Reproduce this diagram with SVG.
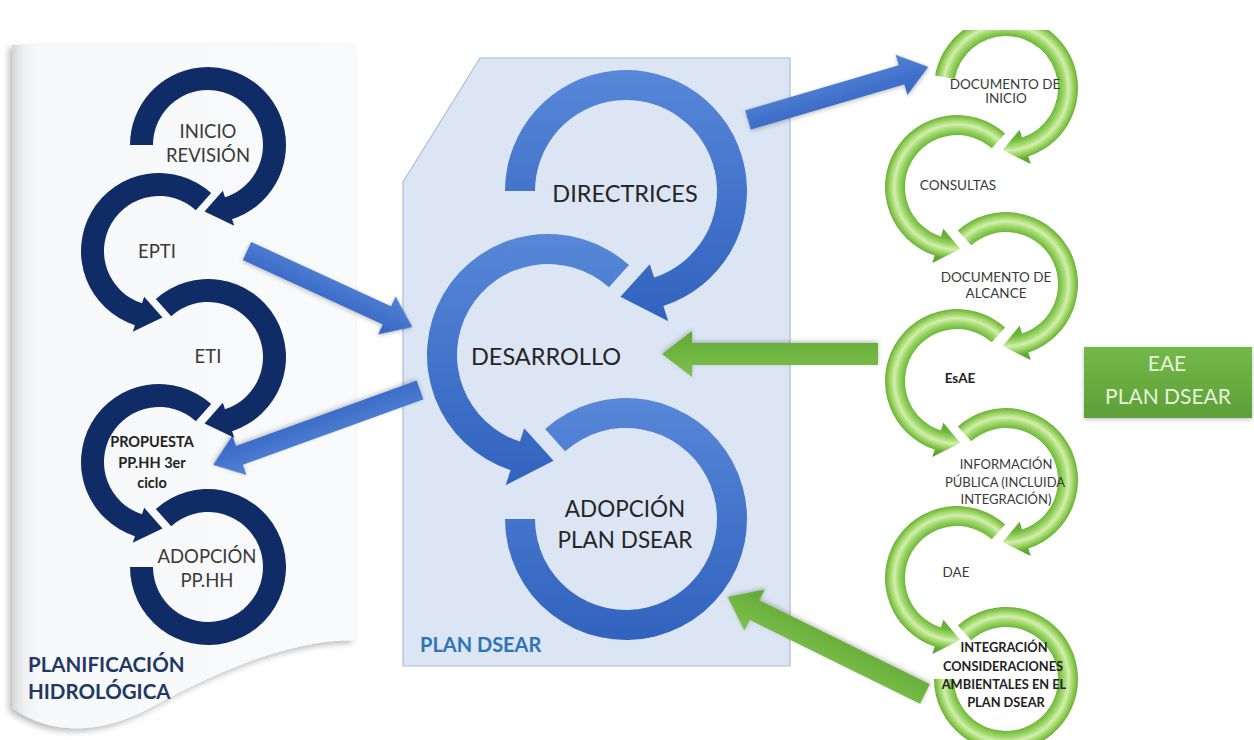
<svg xmlns="http://www.w3.org/2000/svg" width="1254" height="740" viewBox="0 0 1254 740">
  <defs>
    <style>
      .t { font-family: Lato, 'Open Sans', sans-serif; fill: #3a3a3a; text-anchor: middle; }
      .b { font-weight: bold; }
      .navy { fill: #0f2c66; }
      .blue { fill: url(#gBlueRing); }
      .green { fill: url(#gGreenRing); }
      .arrowBlue { fill: url(#gBlueArrow); filter: url(#soft); }
      .arrowGreen { fill: url(#gGreenArrow); filter: url(#soft); }
    </style>

    <!-- fills -->
    <linearGradient id="gPanel" x1="0" y1="0" x2="1" y2="0">
      <stop offset="0" stop-color="#d6d6d8"/>
      <stop offset="0.035" stop-color="#eef0f2"/>
      <stop offset="0.08" stop-color="#f7f8fa"/>
      <stop offset="1" stop-color="#f9fafb"/>
    </linearGradient>
    <linearGradient id="gBlueRing" x1="0" y1="0" x2="0" y2="1">
      <stop offset="0" stop-color="#5687d8"/>
      <stop offset="1" stop-color="#3162be"/>
    </linearGradient>
    <linearGradient id="gBlueArrow" x1="0" y1="0" x2="0" y2="1">
      <stop offset="0" stop-color="#5283d6"/>
      <stop offset="1" stop-color="#3565c2"/>
    </linearGradient>
    <linearGradient id="gGreenArrow" x1="0" y1="0" x2="0" y2="1">
      <stop offset="0" stop-color="#7dc24c"/>
      <stop offset="1" stop-color="#62a836"/>
    </linearGradient>
    <linearGradient id="gBox" x1="0" y1="0" x2="0" y2="1">
      <stop offset="0" stop-color="#74b84a"/>
      <stop offset="1" stop-color="#5d9f37"/>
    </linearGradient>
    <!-- bevelled band for the green ring arrows, centred on each ring -->
    <radialGradient id="gGreenRing" gradientUnits="userSpaceOnUse" cx="0" cy="0" r="84">
      <stop offset="0" stop-color="#5aa530"/>
      <stop offset="0.52" stop-color="#5aa530"/>
      <stop offset="0.62" stop-color="#6db838"/>
      <stop offset="0.70" stop-color="#a6db74"/>
      <stop offset="0.745" stop-color="#d2efad"/>
      <stop offset="0.80" stop-color="#9dd563"/>
      <stop offset="0.86" stop-color="#66ad35"/>
      <stop offset="0.95" stop-color="#4f9a28"/>
      <stop offset="1" stop-color="#4f9a28"/>
    </radialGradient>

    <filter id="soft" x="-20%" y="-40%" width="140%" height="180%">
      <feDropShadow dx="0" dy="1.5" stdDeviation="2" flood-color="#000" flood-opacity="0.25"/>
    </filter>
    <filter id="panelShadow" x="-10%" y="-10%" width="120%" height="120%">
      <feDropShadow dx="-3" dy="3" stdDeviation="3" flood-color="#000" flood-opacity="0.28"/>
    </filter>

    <clipPath id="clipTop">
      <rect x="880" y="30" width="240" height="200"/>
    </clipPath>

    <!-- ring arrows, centred on 0,0; clockwise from the start angle -->
    <path id="navyFirst" d="M-78 0A78 78 0 1 1 24.10 74.19L26.27 80.84L-3.48 66.41L14.83 45.65L17.00 52.31A55 55 0 1 0 -55 0Z"/>
    <path id="navyStep" d="M-52.19 -57.96A78 78 0 1 1 24.10 74.19L26.27 80.84L-3.48 66.41L14.83 45.65L17.00 52.31A55 55 0 1 0 -36.80 -40.87Z"/>
    <path id="navyLast" d="M-52.19 -57.96A78 78 0 1 1 -78 0L-55 0A55 55 0 1 0 -36.80 -40.87Z"/>

    <path id="blueFirst" d="M-121 0A121 121 0 1 1 37.39 115.08L42.33 130.30L-5.55 105.85L23.79 73.23L28.12 86.55A91 91 0 1 0 -91 0Z"/>
    <path id="blueStep" d="M-80.96 -89.92A121 121 0 1 1 37.39 115.08L42.33 130.30L-5.55 105.85L23.79 73.23L28.12 86.55A91 91 0 1 0 -60.89 -67.63Z"/>
    <path id="blueLast" d="M-80.96 -89.92A121 121 0 1 1 -121 0L-91 0A91 91 0 1 0 -60.89 -67.63Z"/>

    <path id="greenFirst" d="M-70.91 -12.50A72 72 0 1 1 22.25 68.48L24.72 76.09L-3.24 61.92L13.60 41.85L16.07 49.45A52 52 0 1 0 -51.21 -9.03Z"/>
    <path id="greenStep" d="M-48.18 -53.50A72 72 0 1 1 22.25 68.48L24.72 76.09L-3.24 61.92L13.60 41.85L16.07 49.45A52 52 0 1 0 -34.79 -38.64Z"/>
    <path id="greenLast" d="M-48.18 -53.50A72 72 0 1 1 -72 0L-52 0A52 52 0 1 0 -34.79 -38.64Z"/>
  </defs>

  <rect width="1254" height="740" fill="#ffffff"/>

  <!-- Planificación hidrológica -->
  <g id="panel-planificacion">
    <path d="M12 45L355 45L355 640C285 640 210 675 150 708C100 735 50 735 12 708Z" fill="url(#gPanel)" filter="url(#panelShadow)"/>
    <text class="t b" x="28" y="672" style="font-size:20.5px; fill:#1f3864; text-anchor:start">PLANIFICACIÓN</text>
    <text class="t b" x="28" y="699" style="font-size:20.5px; fill:#1f3864; text-anchor:start">HIDROLÓGICA</text>
  </g>

  <!-- Plan DSEAR -->
  <g id="panel-dsear">
    <path d="M403 182L480 58L790 58L790 666L403 666Z" fill="#dce5f3" stroke="#a9bedb" stroke-width="1.2"/>
    <text class="t b" x="420" y="652" style="font-size:20px; fill:#2e74b5; text-anchor:start">PLAN DSEAR</text>
  </g>

  <g id="connectors">
    <polygon class="arrowBlue" transform="translate(748 120) rotate(-16.4)" points="0,-10 160,-10 160,-21 188,0 160,21 160,10 0,10"/>
    <polygon class="arrowBlue" transform="translate(247 251) rotate(24.7)" points="0,-10 154,-10 154,-21 182,0 154,21 154,10 0,10"/>
    <polygon class="arrowBlue" transform="translate(420 390) rotate(160.1)" points="0,-10 192,-10 192,-21 220,0 192,21 192,10 0,10"/>
    <polygon class="arrowGreen" transform="translate(878 354) rotate(180)" points="0,-11 186,-11 186,-23 216,0 186,23 186,11 0,11"/>
    <polygon class="arrowGreen" transform="translate(925 694) rotate(206.2)" points="0,-11 190,-11 190,-23 220,0 190,23 190,11 0,11"/>
  </g>

  <!-- hydrological planning cycle -->
  <g id="inicio-revision">
    <use href="#navyFirst" class="navy" transform="translate(208 145)"/>
    <text class="t" x="208" y="138" style="font-size:18.5px">INICIO</text>
    <text class="t" x="208" y="162" style="font-size:18.5px">REVISIÓN</text>
  </g>
  <g id="epti">
    <use href="#navyStep" class="navy" transform="translate(159 251) scale(-1 1)"/>
    <text class="t" x="157" y="258" style="font-size:18.5px">EPTI</text>
  </g>
  <g id="eti">
    <use href="#navyStep" class="navy" transform="translate(208 357)"/>
    <text class="t" x="208" y="363" style="font-size:18.5px">ETI</text>
  </g>
  <g id="propuesta">
    <use href="#navyStep" class="navy" transform="translate(159 462) scale(-1 1)"/>
    <text class="t b" x="152" y="447" style="font-size:14.5px; fill:#222">PROPUESTA</text>
    <text class="t b" x="152" y="468" style="font-size:14.5px; fill:#222">PP.HH 3er</text>
    <text class="t b" x="152" y="488" style="font-size:14.5px; fill:#222">ciclo</text>
  </g>
  <g id="adopcion-pphh">
    <use href="#navyLast" class="navy" transform="translate(208 567)"/>
    <text class="t" x="207" y="563" style="font-size:18.5px">ADOPCIÓN</text>
    <text class="t" x="207" y="587" style="font-size:18.5px">PP.HH</text>
  </g>

  <!-- DSEAR plan cycle -->
  <g id="directrices">
    <use href="#blueFirst" class="blue" transform="translate(626 191)"/>
    <text class="t" x="625" y="202" style="font-size:23.5px; fill:#262626">DIRECTRICES</text>
  </g>
  <g id="desarrollo">
    <use href="#blueStep" class="blue" transform="translate(548 355) scale(-1 1)"/>
    <text class="t" x="546" y="365" style="font-size:23.5px; fill:#262626">DESARROLLO</text>
  </g>
  <g id="adopcion-dsear">
    <use href="#blueLast" class="blue" transform="translate(626 519)"/>
    <text class="t" x="625" y="517" style="font-size:22.5px; fill:#262626">ADOPCIÓN</text>
    <text class="t" x="625" y="548" style="font-size:22.5px; fill:#262626">PLAN DSEAR</text>
  </g>

  <!-- strategic environmental assessment cycle -->
  <g id="documento-inicio">
    <g clip-path="url(#clipTop)">
      <use href="#greenFirst" class="green" transform="translate(1006 88)"/>
    </g>
    <text class="t" x="1005" y="89" style="font-size:13.5px">DOCUMENTO DE</text>
    <text class="t" x="1006" y="103" style="font-size:13.5px">INICIO</text>
  </g>
  <g id="consultas">
    <use href="#greenStep" class="green" transform="translate(957 187) scale(-1 1)"/>
    <text class="t" x="958" y="190" style="font-size:13.5px">CONSULTAS</text>
  </g>
  <g id="documento-alcance">
    <use href="#greenStep" class="green" transform="translate(1006 284)"/>
    <text class="t" x="996" y="282" style="font-size:13.5px">DOCUMENTO DE</text>
    <text class="t" x="996" y="298" style="font-size:13.5px">ALCANCE</text>
  </g>
  <g id="esae">
    <use href="#greenStep" class="green" transform="translate(957 381) scale(-1 1)"/>
    <text class="t b" x="960" y="383" style="font-size:13.5px; fill:#222">EsAE</text>
  </g>
  <g id="informacion-publica">
    <use href="#greenStep" class="green" transform="translate(1006 480)"/>
    <text class="t" x="1006" y="469" style="font-size:13px">INFORMACIÓN</text>
    <text class="t" x="1005" y="487" style="font-size:13px">PÚBLICA (INCLUIDA</text>
    <text class="t" x="1006" y="504" style="font-size:13px">INTEGRACIÓN)</text>
  </g>
  <g id="dae">
    <use href="#greenStep" class="green" transform="translate(957 578) scale(-1 1)"/>
    <text class="t" x="956" y="577" style="font-size:13.5px">DAE</text>
  </g>
  <g id="integracion">
    <use href="#greenLast" class="green" transform="translate(1006 679)"/>
    <text class="t b" x="1004" y="652" style="font-size:12.8px; fill:#222">INTEGRACIÓN</text>
    <text class="t b" x="1003" y="671" style="font-size:12.8px; fill:#222">CONSIDERACIONES</text>
    <text class="t b" x="1004" y="689" style="font-size:12.8px; fill:#222">AMBIENTALES EN EL</text>
    <text class="t b" x="1006" y="707" style="font-size:12.8px; fill:#222">PLAN DSEAR</text>
  </g>

  <g id="eae-plan-dsear">
    <rect x="1084" y="347" width="168" height="71" fill="url(#gBox)" filter="url(#soft)"/>
    <text class="t" x="1167" y="371" style="font-size:21px; fill:#e6f4da">EAE</text>
    <text class="t" x="1168" y="404" style="font-size:21px; fill:#e6f4da">PLAN DSEAR</text>
  </g>
</svg>
